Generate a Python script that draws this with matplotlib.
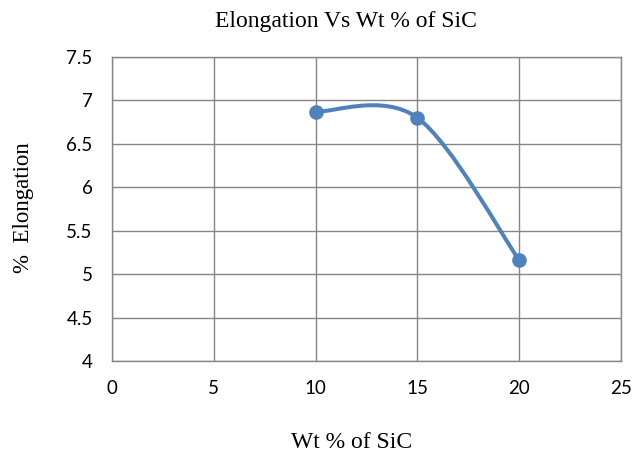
import matplotlib.pyplot as plt
from matplotlib.path import Path
from matplotlib.patches import PathPatch
import numpy as np

# data
wt_sic = [10, 15, 20]
elongation = [6.87, 6.80, 5.16]
x_ticks = [0, 5, 10, 15, 20, 25]
y_ticks = [4, 4.5, 5, 5.5, 6, 6.5, 7, 7.5]

line_col = '#4F81BD'
grid_col = '#868686'


def smooth_path(xs, ys):
     # spreadsheet-style smoothed line: Catmull-Rom turned into cubic beziers
     pts = np.column_stack([xs, ys]).astype(float)
     n = len(pts)
     verts = [pts[0]]
     codes = [Path.MOVETO]
     for i in range(n - 1):
          p_prev = pts[i - 1] if i > 0 else pts[i]
          p_next = pts[i + 2] if i + 2 < n else pts[i + 1]
          c1 = pts[i] + (pts[i + 1] - p_prev) / 6.0
          c2 = pts[i + 1] - (p_next - pts[i]) / 6.0
          verts += [c1, c2, pts[i + 1]]
          codes += [Path.CURVE4] * 3
     return Path(verts, codes)


fig = plt.figure(figsize=(6.43, 4.53), dpi=100)
ax = fig.add_axes([0.1742, 0.2031, 0.7916, 0.6711])

ax.set_xlim(0, 25)
ax.set_ylim(4, 7.5)
ax.set_xticks(x_ticks)
ax.set_yticks(y_ticks)
ax.set_xticklabels([str(v) for v in x_ticks])
ax.set_yticklabels(['4', '4.5', '5', '5.5', '6', '6.5', '7', '7.5'])
ax.grid(True, color=grid_col, linewidth=1.0)
ax.set_axisbelow(True)
for s in ax.spines.values():
     s.set_color(grid_col)
     s.set_linewidth(1.0)
ax.tick_params(length=0, labelsize=13.5)
ax.tick_params(axis='x', pad=14)
ax.tick_params(axis='y', pad=14)
for lab in ax.get_xticklabels() + ax.get_yticklabels():
     lab.set_fontfamily('Lato')

patch = PathPatch(smooth_path(wt_sic, elongation), facecolor='none',
                  edgecolor=line_col, linewidth=2.9, capstyle='round', zorder=3)
ax.add_patch(patch)
ax.plot(wt_sic, elongation, 'o', color=line_col, markersize=9.5, zorder=4)

fig.text(346 / 643, 1 - 22 / 453, 'Elongation Vs Wt % of SiC', ha='center', va='center',
         fontsize=17, family='Liberation Serif')
fig.text(352 / 643, 1 - 442 / 453, 'Wt % of SiC', ha='center', va='center',
         fontsize=17, family='Liberation Serif')
fig.text(24 / 643, 1 - 208 / 453, '%  Elongation', ha='center', va='center', rotation=90,
         fontsize=16.5, family='Liberation Serif')

fig.savefig('out.png', dpi=100)
